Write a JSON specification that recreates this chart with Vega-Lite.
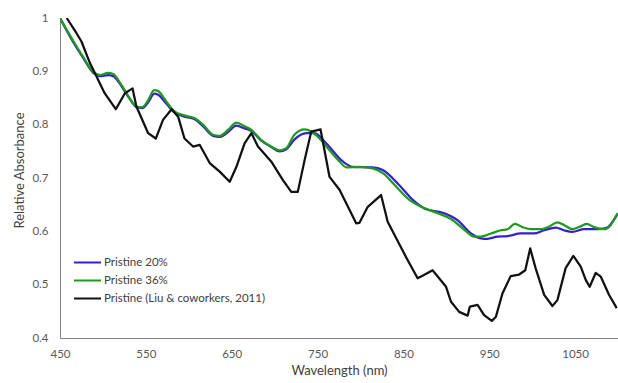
{
  "$schema": "https://vega.github.io/schema/vega-lite/v6.json",
  "width": 558,
  "height": 320,
  "autosize": "none",
  "padding": {"left": 60, "top": 18, "right": 0, "bottom": 45},
  "background": "white",
  "config": {
    "view": {"stroke": null},
    "font": "Lato"
  },
  "data": {
    "values": [
      {"s": "Pristine 20%", "x": 450, "y": 1.0},
      {"s": "Pristine 20%", "x": 463.6, "y": 0.96},
      {"s": "Pristine 20%", "x": 477, "y": 0.925},
      {"s": "Pristine 20%", "x": 488.8, "y": 0.897},
      {"s": "Pristine 20%", "x": 496.5, "y": 0.891},
      {"s": "Pristine 20%", "x": 506, "y": 0.893},
      {"s": "Pristine 20%", "x": 512, "y": 0.891},
      {"s": "Pristine 20%", "x": 521.7, "y": 0.872},
      {"s": "Pristine 20%", "x": 531.4, "y": 0.848},
      {"s": "Pristine 20%", "x": 539, "y": 0.833},
      {"s": "Pristine 20%", "x": 545.7, "y": 0.831},
      {"s": "Pristine 20%", "x": 552.7, "y": 0.842},
      {"s": "Pristine 20%", "x": 560, "y": 0.858},
      {"s": "Pristine 20%", "x": 564.3, "y": 0.856},
      {"s": "Pristine 20%", "x": 574, "y": 0.839},
      {"s": "Pristine 20%", "x": 581.8, "y": 0.825},
      {"s": "Pristine 20%", "x": 593.4, "y": 0.816},
      {"s": "Pristine 20%", "x": 607, "y": 0.81},
      {"s": "Pristine 20%", "x": 616.6, "y": 0.797},
      {"s": "Pristine 20%", "x": 628.3, "y": 0.779},
      {"s": "Pristine 20%", "x": 636, "y": 0.777},
      {"s": "Pristine 20%", "x": 645.7, "y": 0.786},
      {"s": "Pristine 20%", "x": 655.5, "y": 0.798},
      {"s": "Pristine 20%", "x": 665, "y": 0.793},
      {"s": "Pristine 20%", "x": 673, "y": 0.788},
      {"s": "Pristine 20%", "x": 684.5, "y": 0.77},
      {"s": "Pristine 20%", "x": 696, "y": 0.758},
      {"s": "Pristine 20%", "x": 705.8, "y": 0.75},
      {"s": "Pristine 20%", "x": 713.6, "y": 0.754},
      {"s": "Pristine 20%", "x": 723, "y": 0.772},
      {"s": "Pristine 20%", "x": 736.8, "y": 0.784},
      {"s": "Pristine 20%", "x": 746.5, "y": 0.784},
      {"s": "Pristine 20%", "x": 760, "y": 0.765},
      {"s": "Pristine 20%", "x": 779.4, "y": 0.731},
      {"s": "Pristine 20%", "x": 791, "y": 0.721},
      {"s": "Pristine 20%", "x": 814, "y": 0.72},
      {"s": "Pristine 20%", "x": 826, "y": 0.715},
      {"s": "Pristine 20%", "x": 845, "y": 0.687},
      {"s": "Pristine 20%", "x": 861, "y": 0.659},
      {"s": "Pristine 20%", "x": 874.4, "y": 0.643},
      {"s": "Pristine 20%", "x": 897.7, "y": 0.634},
      {"s": "Pristine 20%", "x": 913, "y": 0.621},
      {"s": "Pristine 20%", "x": 928.7, "y": 0.596},
      {"s": "Pristine 20%", "x": 940.3, "y": 0.587},
      {"s": "Pristine 20%", "x": 948, "y": 0.586},
      {"s": "Pristine 20%", "x": 959.7, "y": 0.59},
      {"s": "Pristine 20%", "x": 971.3, "y": 0.591},
      {"s": "Pristine 20%", "x": 986.8, "y": 0.596},
      {"s": "Pristine 20%", "x": 1002, "y": 0.596},
      {"s": "Pristine 20%", "x": 1014, "y": 0.602},
      {"s": "Pristine 20%", "x": 1027.5, "y": 0.607},
      {"s": "Pristine 20%", "x": 1037, "y": 0.602},
      {"s": "Pristine 20%", "x": 1047, "y": 0.599},
      {"s": "Pristine 20%", "x": 1060.5, "y": 0.604},
      {"s": "Pristine 20%", "x": 1076, "y": 0.604},
      {"s": "Pristine 20%", "x": 1087.5, "y": 0.607},
      {"s": "Pristine 20%", "x": 1095, "y": 0.621},
      {"s": "Pristine 20%", "x": 1100, "y": 0.634},

      {"s": "Pristine 36%", "x": 450, "y": 1.0},
      {"s": "Pristine 36%", "x": 463.6, "y": 0.962},
      {"s": "Pristine 36%", "x": 477, "y": 0.927},
      {"s": "Pristine 36%", "x": 488.8, "y": 0.899},
      {"s": "Pristine 36%", "x": 496.5, "y": 0.893},
      {"s": "Pristine 36%", "x": 506, "y": 0.897},
      {"s": "Pristine 36%", "x": 512, "y": 0.895},
      {"s": "Pristine 36%", "x": 521.7, "y": 0.874},
      {"s": "Pristine 36%", "x": 531.4, "y": 0.849},
      {"s": "Pristine 36%", "x": 539, "y": 0.834},
      {"s": "Pristine 36%", "x": 545.7, "y": 0.833},
      {"s": "Pristine 36%", "x": 552.7, "y": 0.846},
      {"s": "Pristine 36%", "x": 559.7, "y": 0.865},
      {"s": "Pristine 36%", "x": 564.3, "y": 0.863},
      {"s": "Pristine 36%", "x": 574, "y": 0.843},
      {"s": "Pristine 36%", "x": 581.8, "y": 0.827},
      {"s": "Pristine 36%", "x": 593.4, "y": 0.818},
      {"s": "Pristine 36%", "x": 607, "y": 0.812},
      {"s": "Pristine 36%", "x": 616.6, "y": 0.8},
      {"s": "Pristine 36%", "x": 628.3, "y": 0.781},
      {"s": "Pristine 36%", "x": 636, "y": 0.779},
      {"s": "Pristine 36%", "x": 645.7, "y": 0.79},
      {"s": "Pristine 36%", "x": 655.5, "y": 0.804},
      {"s": "Pristine 36%", "x": 665, "y": 0.797},
      {"s": "Pristine 36%", "x": 673, "y": 0.79},
      {"s": "Pristine 36%", "x": 684.5, "y": 0.771},
      {"s": "Pristine 36%", "x": 696, "y": 0.759},
      {"s": "Pristine 36%", "x": 705.8, "y": 0.752},
      {"s": "Pristine 36%", "x": 713.6, "y": 0.756},
      {"s": "Pristine 36%", "x": 723, "y": 0.781},
      {"s": "Pristine 36%", "x": 735, "y": 0.791},
      {"s": "Pristine 36%", "x": 742.7, "y": 0.787},
      {"s": "Pristine 36%", "x": 752.3, "y": 0.774},
      {"s": "Pristine 36%", "x": 764, "y": 0.752},
      {"s": "Pristine 36%", "x": 775.6, "y": 0.731},
      {"s": "Pristine 36%", "x": 783.4, "y": 0.72},
      {"s": "Pristine 36%", "x": 799, "y": 0.721},
      {"s": "Pristine 36%", "x": 814.3, "y": 0.718},
      {"s": "Pristine 36%", "x": 826, "y": 0.709},
      {"s": "Pristine 36%", "x": 841.5, "y": 0.684},
      {"s": "Pristine 36%", "x": 857, "y": 0.659},
      {"s": "Pristine 36%", "x": 870.6, "y": 0.646},
      {"s": "Pristine 36%", "x": 880, "y": 0.64},
      {"s": "Pristine 36%", "x": 890, "y": 0.634},
      {"s": "Pristine 36%", "x": 905.5, "y": 0.623},
      {"s": "Pristine 36%", "x": 921, "y": 0.603},
      {"s": "Pristine 36%", "x": 932.6, "y": 0.59},
      {"s": "Pristine 36%", "x": 940.3, "y": 0.59},
      {"s": "Pristine 36%", "x": 952, "y": 0.596},
      {"s": "Pristine 36%", "x": 963.6, "y": 0.602},
      {"s": "Pristine 36%", "x": 971.3, "y": 0.604},
      {"s": "Pristine 36%", "x": 980, "y": 0.614},
      {"s": "Pristine 36%", "x": 988.7, "y": 0.608},
      {"s": "Pristine 36%", "x": 998.5, "y": 0.604},
      {"s": "Pristine 36%", "x": 1010, "y": 0.604},
      {"s": "Pristine 36%", "x": 1019.8, "y": 0.609},
      {"s": "Pristine 36%", "x": 1029.4, "y": 0.617},
      {"s": "Pristine 36%", "x": 1037, "y": 0.612},
      {"s": "Pristine 36%", "x": 1046.9, "y": 0.604},
      {"s": "Pristine 36%", "x": 1054.6, "y": 0.608},
      {"s": "Pristine 36%", "x": 1063.6, "y": 0.614},
      {"s": "Pristine 36%", "x": 1072, "y": 0.608},
      {"s": "Pristine 36%", "x": 1083.7, "y": 0.604},
      {"s": "Pristine 36%", "x": 1091.5, "y": 0.612},
      {"s": "Pristine 36%", "x": 1097, "y": 0.627},
      {"s": "Pristine 36%", "x": 1100, "y": 0.634},

      {"s": "Pristine (Liu & coworkers, 2011)", "x": 457.8, "y": 1.0},
      {"s": "Pristine (Liu & coworkers, 2011)", "x": 469.4, "y": 0.971},
      {"s": "Pristine (Liu & coworkers, 2011)", "x": 475, "y": 0.956},
      {"s": "Pristine (Liu & coworkers, 2011)", "x": 485, "y": 0.915},
      {"s": "Pristine (Liu & coworkers, 2011)", "x": 492.7, "y": 0.89},
      {"s": "Pristine (Liu & coworkers, 2011)", "x": 502, "y": 0.859},
      {"s": "Pristine (Liu & coworkers, 2011)", "x": 515, "y": 0.829},
      {"s": "Pristine (Liu & coworkers, 2011)", "x": 525.6, "y": 0.859},
      {"s": "Pristine (Liu & coworkers, 2011)", "x": 534.5, "y": 0.868},
      {"s": "Pristine (Liu & coworkers, 2011)", "x": 539, "y": 0.834},
      {"s": "Pristine (Liu & coworkers, 2011)", "x": 552.7, "y": 0.784},
      {"s": "Pristine (Liu & coworkers, 2011)", "x": 561.6, "y": 0.774},
      {"s": "Pristine (Liu & coworkers, 2011)", "x": 570, "y": 0.809},
      {"s": "Pristine (Liu & coworkers, 2011)", "x": 580, "y": 0.829},
      {"s": "Pristine (Liu & coworkers, 2011)", "x": 587.6, "y": 0.815},
      {"s": "Pristine (Liu & coworkers, 2011)", "x": 595, "y": 0.774},
      {"s": "Pristine (Liu & coworkers, 2011)", "x": 605, "y": 0.759},
      {"s": "Pristine (Liu & coworkers, 2011)", "x": 612.8, "y": 0.762},
      {"s": "Pristine (Liu & coworkers, 2011)", "x": 624.4, "y": 0.728},
      {"s": "Pristine (Liu & coworkers, 2011)", "x": 636, "y": 0.712},
      {"s": "Pristine (Liu & coworkers, 2011)", "x": 647.7, "y": 0.693},
      {"s": "Pristine (Liu & coworkers, 2011)", "x": 655.5, "y": 0.721},
      {"s": "Pristine (Liu & coworkers, 2011)", "x": 665, "y": 0.765},
      {"s": "Pristine (Liu & coworkers, 2011)", "x": 673, "y": 0.784},
      {"s": "Pristine (Liu & coworkers, 2011)", "x": 680.6, "y": 0.759},
      {"s": "Pristine (Liu & coworkers, 2011)", "x": 696, "y": 0.731},
      {"s": "Pristine (Liu & coworkers, 2011)", "x": 709.7, "y": 0.696},
      {"s": "Pristine (Liu & coworkers, 2011)", "x": 719.4, "y": 0.674},
      {"s": "Pristine (Liu & coworkers, 2011)", "x": 727, "y": 0.674},
      {"s": "Pristine (Liu & coworkers, 2011)", "x": 735, "y": 0.734},
      {"s": "Pristine (Liu & coworkers, 2011)", "x": 742.7, "y": 0.787},
      {"s": "Pristine (Liu & coworkers, 2011)", "x": 753.5, "y": 0.791},
      {"s": "Pristine (Liu & coworkers, 2011)", "x": 764, "y": 0.702},
      {"s": "Pristine (Liu & coworkers, 2011)", "x": 775.6, "y": 0.678},
      {"s": "Pristine (Liu & coworkers, 2011)", "x": 795, "y": 0.615},
      {"s": "Pristine (Liu & coworkers, 2011)", "x": 798.8, "y": 0.616},
      {"s": "Pristine (Liu & coworkers, 2011)", "x": 808.5, "y": 0.646},
      {"s": "Pristine (Liu & coworkers, 2011)", "x": 824, "y": 0.668},
      {"s": "Pristine (Liu & coworkers, 2011)", "x": 831.7, "y": 0.618},
      {"s": "Pristine (Liu & coworkers, 2011)", "x": 853, "y": 0.552},
      {"s": "Pristine (Liu & coworkers, 2011)", "x": 866.6, "y": 0.512},
      {"s": "Pristine (Liu & coworkers, 2011)", "x": 874, "y": 0.518},
      {"s": "Pristine (Liu & coworkers, 2011)", "x": 884, "y": 0.527},
      {"s": "Pristine (Liu & coworkers, 2011)", "x": 899.7, "y": 0.496},
      {"s": "Pristine (Liu & coworkers, 2011)", "x": 905.5, "y": 0.468},
      {"s": "Pristine (Liu & coworkers, 2011)", "x": 915, "y": 0.449},
      {"s": "Pristine (Liu & coworkers, 2011)", "x": 924.8, "y": 0.442},
      {"s": "Pristine (Liu & coworkers, 2011)", "x": 927.5, "y": 0.459},
      {"s": "Pristine (Liu & coworkers, 2011)", "x": 936.4, "y": 0.462},
      {"s": "Pristine (Liu & coworkers, 2011)", "x": 944, "y": 0.443},
      {"s": "Pristine (Liu & coworkers, 2011)", "x": 953, "y": 0.432},
      {"s": "Pristine (Liu & coworkers, 2011)", "x": 957.8, "y": 0.44},
      {"s": "Pristine (Liu & coworkers, 2011)", "x": 965.5, "y": 0.484},
      {"s": "Pristine (Liu & coworkers, 2011)", "x": 975, "y": 0.516},
      {"s": "Pristine (Liu & coworkers, 2011)", "x": 984.9, "y": 0.519},
      {"s": "Pristine (Liu & coworkers, 2011)", "x": 992, "y": 0.527},
      {"s": "Pristine (Liu & coworkers, 2011)", "x": 997.7, "y": 0.568},
      {"s": "Pristine (Liu & coworkers, 2011)", "x": 1004, "y": 0.531},
      {"s": "Pristine (Liu & coworkers, 2011)", "x": 1014, "y": 0.481},
      {"s": "Pristine (Liu & coworkers, 2011)", "x": 1023.6, "y": 0.46},
      {"s": "Pristine (Liu & coworkers, 2011)", "x": 1029.4, "y": 0.471},
      {"s": "Pristine (Liu & coworkers, 2011)", "x": 1039, "y": 0.531},
      {"s": "Pristine (Liu & coworkers, 2011)", "x": 1048, "y": 0.554},
      {"s": "Pristine (Liu & coworkers, 2011)", "x": 1056.6, "y": 0.534},
      {"s": "Pristine (Liu & coworkers, 2011)", "x": 1062.4, "y": 0.509},
      {"s": "Pristine (Liu & coworkers, 2011)", "x": 1067, "y": 0.496},
      {"s": "Pristine (Liu & coworkers, 2011)", "x": 1074, "y": 0.522},
      {"s": "Pristine (Liu & coworkers, 2011)", "x": 1080, "y": 0.515},
      {"s": "Pristine (Liu & coworkers, 2011)", "x": 1089.5, "y": 0.481},
      {"s": "Pristine (Liu & coworkers, 2011)", "x": 1098.5, "y": 0.456}
    ]
  },
  "encoding": {
    "x": {
      "field": "x",
      "type": "quantitative",
      "scale": {"domain": [450, 1100], "nice": false, "zero": false},
      "axis": {
        "title": "Wavelength (nm)",
        "values": [450, 550, 650, 750, 850, 950, 1050],
        "format": "d",
        "grid": false,
        "ticks": false,
        "domainColor": "#7f7f7f",
        "domainWidth": 1,
        "labelColor": "#595959",
        "labelFontSize": 11.5,
        "labelPadding": 10,
        "labelFlush": false,
        "titleColor": "#404040",
        "titleFontSize": 13,
        "titleFontWeight": "normal",
        "titleX": 279,
        "titleY": 26,
        "titleBaseline": "top"
      }
    },
    "y": {
      "field": "y",
      "type": "quantitative",
      "scale": {"domain": [0.4, 1], "nice": false, "zero": false},
      "axis": {
        "title": "Relative Absorbance",
        "values": [0.4, 0.5, 0.6, 0.7, 0.8, 0.9, 1],
        "format": "~g",
        "grid": false,
        "ticks": false,
        "domainColor": "#7f7f7f",
        "domainWidth": 1,
        "labelColor": "#595959",
        "labelFontSize": 11.5,
        "labelPadding": 12,
        "labelFlush": false,
        "titleColor": "#404040",
        "titleFontSize": 13,
        "titleFontWeight": "normal",
        "titleX": -34,
        "titleY": 152,
        "titleAngle": -90,
        "titleBaseline": "bottom",
        "titleAlign": "center"
      }
    },
    "color": {
      "field": "s",
      "type": "nominal",
      "sort": ["Pristine 20%", "Pristine 36%", "Pristine (Liu & coworkers, 2011)"],
      "scale": {
        "domain": ["Pristine 20%", "Pristine 36%", "Pristine (Liu & coworkers, 2011)"],
        "range": ["#3322cc", "#1f9a1f", "#111111"]
      },
      "legend": {
        "title": null,
        "orient": "none",
        "legendX": 13,
        "legendY": 236,
        "symbolType": "stroke",
        "symbolSize": 729,
        "symbolStrokeWidth": 2,
        "clipHeight": 17,
        "rowPadding": 1,
        "labelFontSize": 11.5,
        "labelLimit": 400,
        "labelColor": "#404040",
        "labelOffset": 2
      }
    },
    "order": {"field": "s"}
  },
  "layer": [
    {
      "transform": [{"filter": "datum.s != 'Pristine (Liu & coworkers, 2011)'"}],
      "mark": {"type": "line", "strokeWidth": 2.25, "clip": true, "strokeJoin": "round", "interpolate": "monotone"}
    },
    {
      "transform": [{"filter": "datum.s == 'Pristine (Liu & coworkers, 2011)'"}],
      "mark": {"type": "line", "strokeWidth": 2.25, "clip": true, "strokeJoin": "round"}
    }
  ]
}
